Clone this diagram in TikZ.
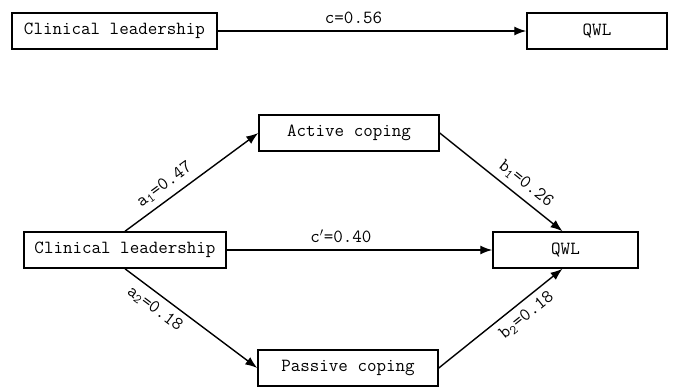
\documentclass[tikz,border=0pt]{standalone}
\usetikzlibrary{arrows.meta}
\begin{document}
\begin{tikzpicture}[>={Latex[length=12pt,width=9pt]}, x=1pt, y=-1pt,
    font=\ttfamily\fontsize{18.5}{20}\selectfont,
    box/.style={draw, line width=1.5pt, inner sep=0pt, minimum height=36pt},
    arr/.style={->, line width=1.4pt}]
    \useasboundingbox (0,0) rectangle (675,386);

    % total effect
    \node[box, minimum width=205pt] (cl0) at (114.5,31) {Clinical leadership};
    \node[box, minimum width=140pt] (qwl0) at (597,31) {QWL};
    \draw[arr] (cl0) -- (qwl0) node[pos=.44, above=3pt]{c=0.56};

    % mediation model
    \node[box, minimum width=202pt] (cl) at (125,250) {Clinical leadership};
    \node[box, minimum width=145pt] (qwl) at (565.5,250) {QWL};
    \node[box, minimum width=180pt] (act) at (349,133) {Active coping};
    \node[box, minimum width=180pt] (pas) at (348,368) {Passive coping};

    \draw[arr] (cl.north) -- (act.west) node[pos=.36, above=3pt, sloped]{a\textsubscript{1}=0.47};
    \draw[arr] (cl.south) -- (pas.west) node[pos=.29, below=3pt, sloped]{a\textsubscript{2}=0.18};
    \draw[arr] (act.east) -- ([xshift=-3pt]qwl.north) node[pos=.63, above=3pt, sloped]{b\textsubscript{1}=0.26};
    \draw[arr] (pas.east) -- ([xshift=-3pt]qwl.south) node[pos=.64, below=3pt, sloped]{b\textsubscript{2}=0.18};
    \draw[arr] (cl) -- (qwl) node[pos=.43, above=3pt]{c$'$=0.40};
\end{tikzpicture}
\end{document}
